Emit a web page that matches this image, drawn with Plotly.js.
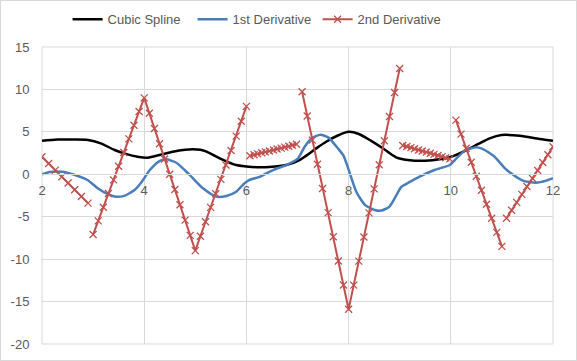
<!DOCTYPE html>
<html>
<head>
<meta charset="utf-8">
<script src="https://cdn.plot.ly/plotly-3.0.1.min.js"></script>
<style>
  html, body { margin: 0; padding: 0; background: #fff; }
  #wrap { position: relative; width: 577px; height: 361px; }
  #chart { width: 577px; height: 361px; }
  #frame { position: absolute; left: 0; top: 0; width: 577px; height: 361px; box-sizing: border-box; border: 1px solid #d9d9d9; pointer-events: none; }
</style>
</head>
<body>
<div id="wrap"><div id="chart"></div><div id="frame"></div></div>
<script>
// ---- Cubic spline ----
const splineX = [2.0, 2.3, 2.6, 2.9, 3.15, 3.42, 3.64, 3.87, 4.07, 4.3, 4.56, 4.8, 4.95, 5.1, 5.22, 5.48, 5.8, 6.0, 6.25, 6.45, 6.78, 7.04, 7.17, 7.4, 7.56, 7.8, 8.0, 8.2, 8.45, 8.67, 8.93, 9.2, 9.5, 9.78, 10.01, 10.31, 10.55, 10.76, 10.99, 11.35, 11.74, 12.0];
const splineY = [3.95, 4.1, 4.1, 4.05, 3.65, 2.86, 2.4, 2.07, 1.96, 2.27, 2.66, 2.9, 2.96, 2.88, 2.66, 1.88, 1.09, 0.93, 0.82, 0.85, 1.09, 1.68, 2.2, 3.2, 3.84, 4.6, 5.0, 4.75, 3.9, 3.06, 2.0, 1.65, 1.6, 1.76, 2.07, 2.86, 3.6, 4.23, 4.62, 4.54, 4.15, 3.95];

// ---- 1st derivative ----
const d1X = [2.0, 2.15, 2.4, 2.63, 2.89, 3.09, 3.29, 3.42, 3.61, 3.81, 3.95, 4.11, 4.3, 4.43, 4.63, 4.89, 5.15, 5.41, 5.61, 5.8, 5.93, 6.06, 6.26, 6.52, 6.78, 7.01, 7.14, 7.27, 7.45, 7.6, 7.79, 7.9, 8.0, 8.15, 8.32, 8.51, 8.64, 8.8, 8.95, 9.03, 9.2, 9.39, 9.68, 9.98, 10.08, 10.27, 10.47, 10.62, 10.85, 11.06, 11.15, 11.41, 11.67, 11.87, 12.0];
const d1Y = [0.0, 0.28, 0.3, -0.05, -0.67, -1.65, -2.35, -2.63, -2.55, -1.85, -0.9, 0.5, 1.56, 1.76, 1.36, -0.08, -1.65, -2.63, -2.55, -2.05, -1.26, -0.67, -0.3, 0.5, 1.09, 1.88, 3.25, 4.23, 4.65, 4.35, 3.06, 2.2, 0.55, -2.05, -3.6, -4.2, -4.28, -3.81, -2.3, -1.5, -0.9, -0.28, 0.5, 1.1, 1.68, 2.78, 3.17, 3.0, 2.1, 0.7, 0.25, -0.75, -0.99, -0.75, -0.47];

// ---- 2nd derivative segments ----
const d2A_x = [2.00, 2.13, 2.26, 2.39, 2.51, 2.64, 2.77, 2.90];
const d2A_y = [2.07, 1.28, 0.49, -0.30, -1.03, -1.82, -2.61, -3.40];
const d2B_x = [3.0, 3.1, 3.2, 3.3, 3.4, 3.5, 3.6, 3.7, 3.8, 3.9, 4.0, 4.1, 4.2, 4.3, 4.4, 4.5, 4.6, 4.7, 4.8, 4.9, 5.0, 5.1, 5.2, 5.3, 5.4, 5.5, 5.6, 5.7, 5.8, 5.9, 6.0];
const d2B_y = [-7.1, -5.49, -3.88, -2.27, -0.66, 0.95, 2.56, 4.17, 5.78, 7.39, 9.0, 7.2, 5.4, 3.6, 1.8, 0.0, -1.8, -3.6, -5.4, -7.2, -9.0, -7.3, -5.6, -3.9, -2.3, -0.6, 1.1, 2.8, 4.5, 6.25, 8.0];
const d2C_x = [6.07, 6.15, 6.22, 6.30, 6.37, 6.45, 6.53, 6.60, 6.68, 6.75, 6.83, 6.90, 6.98];
const d2C_y = [2.19, 2.30, 2.41, 2.53, 2.64, 2.75, 2.86, 2.97, 3.08, 3.20, 3.31, 3.42, 3.53];
const d2D_x = [7.09, 7.19, 7.29, 7.39, 7.49, 7.60, 7.70, 7.80, 7.90, 8.00, 8.10, 8.20, 8.30, 8.40, 8.50, 8.60, 8.70, 8.80, 8.90, 9.00];
const d2D_y = [9.72, 6.87, 4.03, 1.18, -1.67, -4.52, -7.36, -10.21, -13.05, -15.9, -13.06, -10.23, -7.39, -4.55, -1.72, 1.12, 3.96, 6.80, 9.63, 12.47];
const d2E_x = [9.06, 9.14, 9.22, 9.29, 9.37, 9.44, 9.52, 9.60, 9.67, 9.75, 9.83, 9.90, 9.98];
const d2E_y = [3.40, 3.27, 3.14, 3.00, 2.87, 2.74, 2.61, 2.48, 2.35, 2.21, 2.08, 1.95, 1.82];
const d2F_x = [10.1, 10.2, 10.3, 10.4, 10.5, 10.6, 10.7, 10.8, 10.9, 11.0];
const d2F_y = [6.38, 4.73, 3.07, 1.42, -0.23, -1.89, -3.54, -5.19, -6.85, -8.5];
const d2G_x = [11.09, 11.19, 11.29, 11.39, 11.49, 11.60, 11.70, 11.80, 11.90, 12.0];
const d2G_y = [-5.18, -4.24, -3.31, -2.37, -1.43, -0.50, 0.44, 1.38, 2.31, 3.25];

// ---- axis ticks ----
const xTickVals = [2, 4, 6, 8, 10, 12];
const xTickText = ['2', '4', '6', '8', '10', '12'];
const yTickVals = [-20, -15, -10, -5, 0, 5, 10, 15];
const yTickText = ['-20', '-15', '-10', '-5', '0', '5', '10', '15'];

const seriesNames = ['Cubic Spline', '1st Derivative', '2nd Derivative'];

// join the 2nd-derivative segments with gaps
const segsX = [d2A_x, d2B_x, d2C_x, d2D_x, d2E_x, d2F_x, d2G_x];
const segsY = [d2A_y, d2B_y, d2C_y, d2D_y, d2E_y, d2F_y, d2G_y];
let d2X = [], d2Y = [];
segsX.forEach((sx, i) => {
  if (i > 0) { d2X.push(null); d2Y.push(null); }
  d2X = d2X.concat(sx);
  d2Y = d2Y.concat(segsY[i]);
});

const grey = '#595959';
const gridC = '#d9d9d9';
const fontFam = '"Liberation Sans", Arial, sans-serif';

const traces = [
  { x: splineX, y: splineY, name: seriesNames[0], mode: 'lines', type: 'scatter',
    line: { color: '#000000', width: 2.5, shape: 'spline', smoothing: 0.8 } },
  { x: d1X, y: d1Y, name: seriesNames[1], mode: 'lines', type: 'scatter',
    line: { color: '#4a7ebb', width: 2.5, shape: 'spline', smoothing: 0.6 } },
  { x: d2X, y: d2Y, name: seriesNames[2], mode: 'lines+markers', type: 'scatter',
    connectgaps: false,
    line: { color: '#c0504d', width: 2 },
    marker: { symbol: 'x-thin', size: 7, color: '#c0504d', line: { color: '#c0504d', width: 1.3 } } }
];

const layout = {
  width: 577, height: 361,
  margin: { l: 42, r: 24, t: 47, b: 17, pad: 0, autoexpand: false },
  paper_bgcolor: '#ffffff', plot_bgcolor: '#ffffff',
  font: { family: fontFam, size: 13, color: grey },
  showlegend: true,
  legend: { orientation: 'h', x: 0.417, xanchor: 'center', y: 1.093, yanchor: 'middle',
            entrywidth: 80, entrywidthmode: 'pixels',
            font: { family: fontFam, size: 13, color: grey }, bgcolor: 'rgba(0,0,0,0)' },
  xaxis: {
    range: [2, 12], tickvals: xTickVals, ticktext: xTickText,
    showgrid: true, gridcolor: gridC, gridwidth: 1,
    zeroline: false, showline: true, linecolor: gridC, linewidth: 1,
    anchor: 'free', position: 0.5714,
    ticks: 'outside', ticklen: 4, tickcolor: 'rgba(0,0,0,0)',
    tickfont: { family: fontFam, size: 13, color: grey }
  },
  yaxis: {
    range: [-20, 15], tickvals: yTickVals, ticktext: yTickText,
    showgrid: true, gridcolor: gridC, gridwidth: 1,
    zeroline: false, showline: false,
    ticks: 'outside', ticklen: 9, tickcolor: 'rgba(0,0,0,0)',
    tickfont: { family: fontFam, size: 13, color: grey }
  },
  shapes: [
    { type: 'rect', xref: 'paper', yref: 'paper', x0: 0, x1: 1, y0: 0, y1: 1,
      line: { color: gridC, width: 1 }, layer: 'below' }
  ]
};

Plotly.newPlot('chart', traces, layout, { staticPlot: true, displayModeBar: false });
</script>
</body>
</html>
